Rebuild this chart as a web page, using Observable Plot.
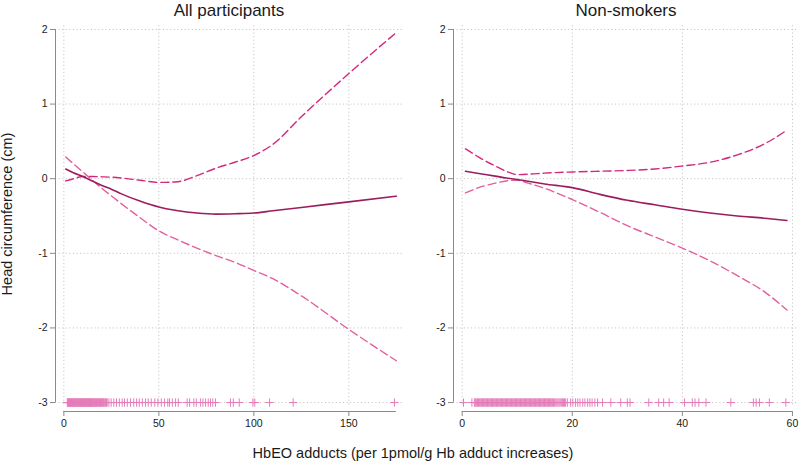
<!DOCTYPE html>
<html><head><meta charset="utf-8">
<script src="https://cdn.jsdelivr.net/npm/d3@7"></script>
<script src="https://cdn.jsdelivr.net/npm/@observablehq/plot@0.6"></script>
<style>
body{margin:0;background:#fff;}
#wrap{position:relative;width:800px;height:462px;overflow:hidden;background:#fff;font-family:"Liberation Sans",Arial,Helvetica,sans-serif;color:#1a1a1a;}
.panel{position:absolute;top:0;}
.title{position:absolute;top:2px;font-size:17px;line-height:17px;transform:translateX(-50%);white-space:nowrap;}
#xlab{position:absolute;left:413px;top:446px;font-size:14.5px;line-height:14.5px;transform:translateX(-50%);white-space:nowrap;}
#ylab{position:absolute;left:7px;top:214px;font-size:14.5px;line-height:14.5px;transform:translate(-50%,-50%) rotate(-90deg);white-space:nowrap;}
</style></head><body>
<div id="wrap">
  <div id="p1" class="panel" style="left:0px"></div>
  <div id="p2" class="panel" style="left:405px"></div>
  <div class="title" style="left:229px">All participants</div>
  <div class="title" style="left:626px">Non-smokers</div>
  <div id="xlab">HbEO adducts (per 1pmol/g Hb adduct increases)</div>
  <div id="ylab">Head circumference (cm)</div>
</div>
<script>
// ---- Panel titles / ticks ----
const panelTitles = ["All participants", "Non-smokers"];
const yTicks = [-3, -2, -1, 0, 1, 2];
const allXTicks = [0, 50, 100, 150];
const nsXTicks = [0, 20, 40, 60];

// ---- All participants ----
const allX     = [1, 5, 10, 15, 20, 25, 30, 40, 50, 60, 70, 80, 90, 100, 110, 125, 150, 175];
const allFit   = [0.13, 0.08, 0.03, -0.03, -0.09, -0.14, -0.20, -0.30, -0.38, -0.43, -0.46, -0.475, -0.47, -0.46, -0.43, -0.385, -0.31, -0.235];
const allUpper = [-0.03, 0.0, 0.03, 0.03, 0.025, 0.02, 0.01, -0.02, -0.05, -0.04, 0.04, 0.14, 0.22, 0.31, 0.46, 0.83, 1.41, 1.96];
const allLower = [0.29, 0.20, 0.09, -0.02, -0.13, -0.23, -0.33, -0.52, -0.70, -0.82, -0.93, -1.03, -1.12, -1.23, -1.34, -1.57, -2.02, -2.44];
const allRug = [1.8, 2.0, 2.3, 2.5, 2.8, 3.0, 3.3, 3.5, 3.8, 4.0, 4.3, 4.5, 4.8, 5.0, 5.3, 5.5, 5.8, 6.0, 6.3, 6.5,
  6.8, 7.0, 7.3, 7.5, 7.8, 8.0, 8.3, 8.5, 8.8, 9.0, 9.3, 9.5, 9.8, 10.0, 10.3, 10.5, 10.8, 11.0, 11.3, 11.5, 11.8,
  12.0, 12.3, 12.5, 12.8, 13.0, 13.3, 13.5, 13.8, 14.0, 14.3, 14.5, 14.8, 15.0, 15.3, 15.5, 15.8, 16.0, 16.3, 16.6,
  16.9, 17.2, 17.5, 17.8, 18.1, 18.4, 18.7, 19.0, 19.3, 19.6, 19.9, 20.2, 20.5, 20.8, 21.2, 21.6, 22.0, 22.4, 22.8,
  23.7, 24.9, 26.3, 27.7, 29.2, 30.7, 31.9, 33.4, 35.1, 36.8, 38.3, 39.7, 41.3, 43.0, 44.4, 46.0, 47.9, 49.5, 51.3,
  53.0, 54.7, 55.6, 57.1, 58.8, 60.2, 64.9, 66.2, 68.4, 69.7, 72.0, 73.2, 74.6, 76.0, 77.2, 78.4, 79.8, 87.7, 89.2,
  92.3, 99.5, 100.5, 108.3, 120.7, 174];

// ---- Non-smokers ----
const nsX     = [0.6, 3, 6, 8, 10, 12, 15, 20, 25, 30, 35, 40, 45, 50, 55, 59];
const nsFit   = [0.10, 0.07, 0.035, 0.01, -0.01, -0.035, -0.07, -0.12, -0.21, -0.29, -0.35, -0.41, -0.46, -0.50, -0.53, -0.56];
const nsUpper = [0.40, 0.29, 0.17, 0.10, 0.055, 0.06, 0.075, 0.09, 0.10, 0.11, 0.13, 0.17, 0.22, 0.32, 0.47, 0.65];
const nsLower = [-0.19, -0.12, -0.06, -0.03, -0.02, -0.06, -0.13, -0.28, -0.45, -0.63, -0.78, -0.93, -1.10, -1.30, -1.52, -1.76];
const nsRug = [0.24, 1.76, 2.2, 2.35, 2.5, 2.65, 2.8, 2.95, 3.1, 3.25, 3.4, 3.55, 3.7, 3.85, 4.0, 4.15, 4.3, 4.45,
  4.6, 4.75, 4.9, 5.05, 5.2, 5.35, 5.5, 5.65, 5.8, 5.95, 6.1, 6.25, 6.4, 6.55, 6.7, 6.85, 7.0, 7.15, 7.3, 7.45, 7.6,
  7.75, 7.9, 8.05, 8.2, 8.35, 8.5, 8.65, 8.8, 8.95, 9.1, 9.25, 9.4, 9.55, 9.7, 9.85, 10.0, 10.15, 10.3, 10.45, 10.6,
  10.75, 10.9, 11.05, 11.2, 11.35, 11.5, 11.65, 11.8, 11.95, 12.1, 12.25, 12.4, 12.55, 12.7, 12.85, 13.0, 13.15,
  13.3, 13.45, 13.6, 13.75, 13.9, 14.05, 14.2, 14.35, 14.5, 14.65, 14.8, 14.95, 15.1, 15.25, 15.4, 15.55, 15.7,
  15.85, 16.0, 16.15, 16.3, 16.45, 16.6, 16.8, 17.0, 17.2, 17.4, 17.6, 17.8, 18.0, 18.2, 18.4, 18.6, 18.8,
  19.1, 19.7, 20.1, 20.6, 21.0, 21.4, 21.9, 22.3, 22.8, 23.2, 23.6, 24.1, 24.6, 25.5, 27.0, 28.8, 30.0, 30.5,
  33.9, 35.7, 36.6, 37.6, 40.4, 41.8, 42.3, 43.0, 44.3, 48.8, 52.9, 53.4, 54.0, 55.8, 58.8];

const C_FIT = "#9c1d5e", C_HI = "#d3287b", C_LO = "#e45e9d", C_RUG = "#e47cb9";
const C_GRID = "#bdbdbd", C_AXIS = "#8a8a8a";

function panel({xs, fit, hi, lo, rug, xTicks, xDomain, xEnd, width, marginLeft, marginRight}) {
  const rows = xs.map((x, i) => ({x, fit: fit[i], hi: hi[i], lo: lo[i]}));
  const yMin = d3.min(yTicks), yMax = d3.max(yTicks);
  return Plot.plot({
    width, height: 440,
    marginLeft, marginRight, marginTop: 23, marginBottom: 29,
    x: {domain: xDomain},
    y: {domain: [-3.12, 2.08]},
    style: {fontFamily: "'Liberation Sans', Arial, Helvetica, sans-serif", fontSize: "10.5px", color: "#1a1a1a", background: "transparent", overflow: "visible"},
    marks: [
      Plot.ruleY(yTicks, {stroke: C_GRID, strokeDasharray: "1,2.6", strokeWidth: 1}),
      Plot.ruleX(xTicks, {y1: -3.03, y2: 2.08, stroke: C_GRID, strokeDasharray: "1,2.6", strokeWidth: 1}),
      Plot.ruleX([xDomain[0]], {y1: yMin, y2: yMax, stroke: C_AXIS, strokeWidth: 1}),
      Plot.ruleY([-3.12], {x1: xTicks[0], x2: xEnd, stroke: C_AXIS, strokeWidth: 1}),
      Plot.axisY({ticks: yTicks, tickSize: 5, tickPadding: 3, stroke: C_AXIS, tickFormat: d => String(d), label: null}),
      Plot.axisX({ticks: xTicks, tickSize: 5, tickPadding: 3, stroke: C_AXIS, tickFormat: d => String(d), label: null}),
      Plot.dot(rug, {x: d => d, y: yMin, symbol: "plus", r: 2.8, stroke: C_RUG, strokeWidth: 1}),
      Plot.line(rows, {x: "x", y: "hi", stroke: C_HI, strokeWidth: 1.4, strokeDasharray: "8,4", curve: "monotone-x"}),
      Plot.line(rows, {x: "x", y: "lo", stroke: C_LO, strokeWidth: 1.4, strokeDasharray: "8,4", curve: "monotone-x"}),
      Plot.line(rows, {x: "x", y: "fit", stroke: C_FIT, strokeWidth: 1.6, curve: "monotone-x"})
    ]
  });
}

document.getElementById("p1").append(panel({
  xs: allX, fit: allFit, hi: allUpper, lo: allLower, rug: allRug,
  xTicks: allXTicks, xDomain: [-4.4, 179.3], xEnd: 175,
  width: 405, marginLeft: 55, marginRight: 1
}));
document.getElementById("p2").append(panel({
  xs: nsX, fit: nsFit, hi: nsUpper, lo: nsLower, rug: nsRug,
  xTicks: nsXTicks, xDomain: [-1.58, 61.1], xEnd: 60,
  width: 395, marginLeft: 48, marginRight: 2
}));
</script>
</body></html>
